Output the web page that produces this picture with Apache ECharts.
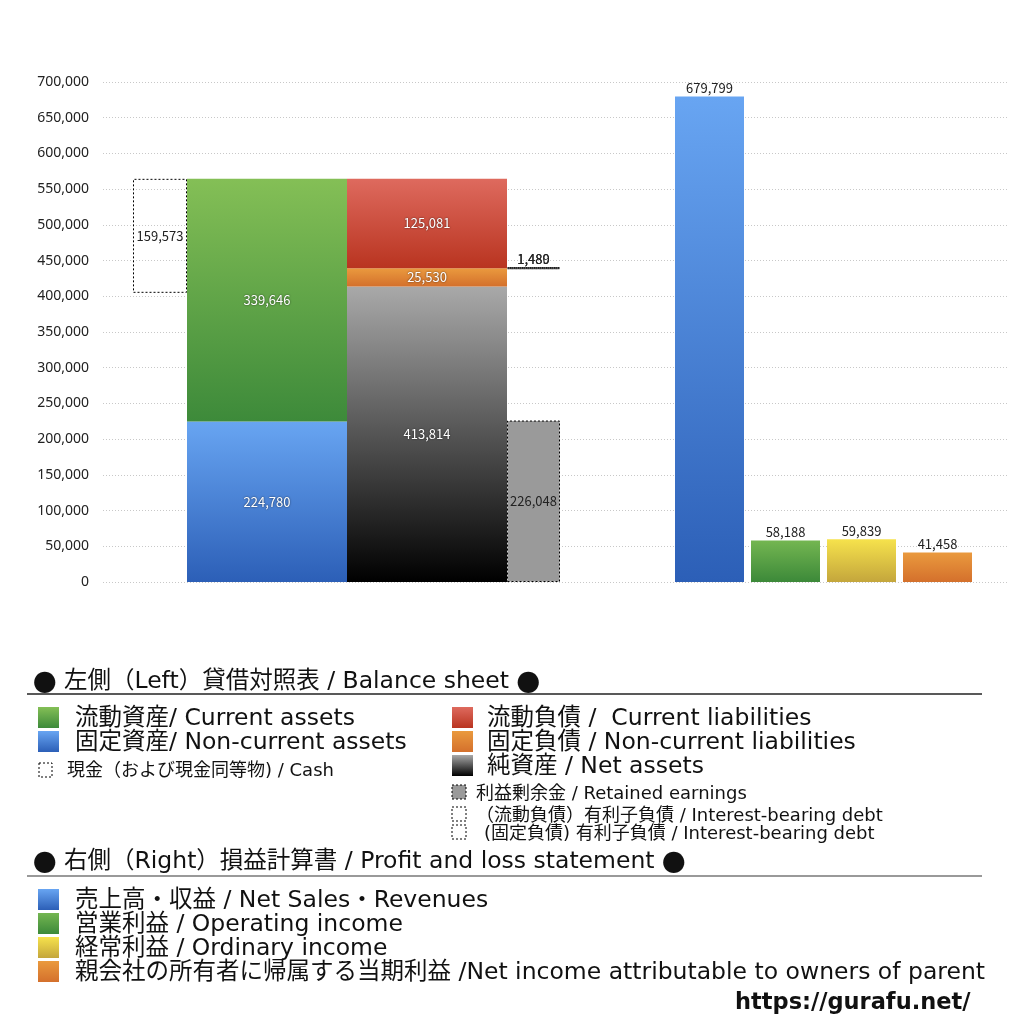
<!DOCTYPE html>
<html>
<head>
<meta charset="utf-8">
<script src="https://cdn.jsdelivr.net/npm/echarts@6/dist/echarts.min.js"></script>
<style>
html,body{margin:0;padding:0;background:#fff;}
#chart{width:1024px;height:1024px;}
</style>
</head>
<body>
<div id="chart"></div>
<script>
// ---- data ----
const bsCategories = ['貸借対照表'];
const cash = [159573];
const nonCurrentAssets = [224780];
const currentAssets = [339646];
const netAssets = [413814];
const nonCurrentLiabilities = [25530];
const currentLiabilities = [125081];
const retainedEarnings = [226048];
const nonCurrentDebt = [1480];
const currentDebt = [1489];

const plCategories = ['売上高・収益', '営業利益', '経常利益', '親会社の所有者に帰属する当期利益'];
const plValues = [679799, 58188, 59839, 41458];

const yMin = 0, yMax = 700000, yInterval = 50000;

// ---- helpers ----
const FONT = '"Noto Sans CJK JP", "Noto Sans", sans-serif';
const LFONT = '"DejaVu Sans", "Noto Sans CJK JP", sans-serif';
const fmt = v => Number(v).toLocaleString('en-US');
const grad = (top, bottom) => new echarts.graphic.LinearGradient(0, 0, 0, 1, [
  { offset: 0, color: top }, { offset: 1, color: bottom }
]);
const C = {
  green: ['#84bf56', '#3d8a3a'],
  blue: ['#68a5f2', '#2c5fb7'],
  red: ['#de6a5e', '#b93420'],
  orange: ['#ea9a3e', '#d4702c'],
  gray: ['#a9a9a9', '#000000'],
  yellow: ['#f6e24c', '#c4a63c'],
  pgreen: ['#74b651', '#3c8939']
};
const totalAssets = nonCurrentAssets.map((v, i) => v + currentAssets[i]);
const cashBase = totalAssets.map((v, i) => v - cash[i]);
const debtBase = netAssets.map((v, i) => v + nonCurrentLiabilities[i] - retainedEarnings[i] - nonCurrentDebt[i]);

const whiteLabel = {
  show: true, position: 'inside', color: '#fff', fontSize: 13, fontFamily: FONT,
  formatter: p => fmt(p.value), textShadowColor: 'rgba(0,0,0,0.7)', textShadowBlur: 2
};
const darkLabel = {
  show: true, position: 'inside', color: '#222', fontSize: 13, fontFamily: FONT,
  formatter: p => fmt(p.value)
};
const dashedBorder = { borderColor: '#000', borderWidth: 1, borderType: [2, 2] };

const common = { type: 'bar', xAxisIndex: 1, yAxisIndex: 1, barGap: '0%', animation: false };

const series = [
  Object.assign({}, common, { name: 'cashBase', stack: 'cash', barWidth: 54, data: cashBase, itemStyle: { color: 'rgba(0,0,0,0)' }, silent: true }),
  Object.assign({}, common, { name: '現金', stack: 'cash', barWidth: 54, data: cash, itemStyle: Object.assign({ color: 'rgba(255,255,255,0)' }, dashedBorder), label: darkLabel }),
  Object.assign({}, common, { name: '固定資産', stack: 'assets', barWidth: 160, data: nonCurrentAssets, itemStyle: { color: grad(...C.blue) }, label: whiteLabel }),
  Object.assign({}, common, { name: '流動資産', stack: 'assets', barWidth: 160, data: currentAssets, itemStyle: { color: grad(...C.green) }, label: whiteLabel }),
  Object.assign({}, common, { name: '純資産', stack: 'liab', barWidth: 160, data: netAssets, itemStyle: { color: grad(...C.gray) }, label: whiteLabel }),
  Object.assign({}, common, { name: '固定負債', stack: 'liab', barWidth: 160, data: nonCurrentLiabilities, itemStyle: { color: grad(...C.orange) }, label: whiteLabel }),
  Object.assign({}, common, { name: '流動負債', stack: 'liab', barWidth: 160, data: currentLiabilities, itemStyle: { color: grad(...C.red) }, label: whiteLabel }),
  Object.assign({}, common, { name: '利益剰余金', stack: 'ret', barWidth: 53, data: retainedEarnings, itemStyle: Object.assign({ color: '#9a9a9a' }, dashedBorder), label: darkLabel }),
  Object.assign({}, common, { name: 'debtBase', stack: 'ret', barWidth: 53, data: debtBase, itemStyle: { color: 'rgba(0,0,0,0)' }, silent: true }),
  Object.assign({}, common, { name: '固定有利子負債', stack: 'ret', barWidth: 53, data: nonCurrentDebt, itemStyle: Object.assign({ color: 'rgba(255,255,255,0)' }, dashedBorder), label: Object.assign({}, darkLabel, { position: 'top', distance: 3 }) }),
  Object.assign({}, common, { name: '流動有利子負債', stack: 'ret', barWidth: 53, data: currentDebt, itemStyle: Object.assign({ color: 'rgba(255,255,255,0)' }, dashedBorder), label: Object.assign({}, darkLabel, { position: 'top', distance: 2 }) }),
  {
    type: 'bar', name: 'PL', xAxisIndex: 2, yAxisIndex: 2, barWidth: 69, animation: false,
    data: plValues.map((v, i) => ({
      value: v,
      itemStyle: { color: grad(...[C.blue, C.pgreen, C.yellow, C.orange][i]) }
    })),
    label: { show: true, position: 'top', distance: 2, color: '#222', fontSize: 13, fontFamily: FONT, formatter: p => fmt(p.value) }
  }
];

// ---- legend graphics ----
const g = [];
const txt = (x, y, text, size, opts) => g.push({
  type: 'text', x, y, style: Object.assign({
    text, fontSize: size, fontFamily: LFONT, fill: '#111', verticalAlign: 'middle',
    rich: { b: { fontFamily: '"Noto Sans CJK JP"', fontSize: size, fill: '#111', verticalAlign: 'middle' } }
  }, opts || {})
});
const sq = (x, y, w, h, fill, dashed) => g.push({
  type: 'rect', shape: { x, y, width: w, height: h },
  style: dashed ? { fill: fill || '#fff', stroke: '#000', lineWidth: 1, lineDash: [2, 2] } : { fill }
});
const BIG = 23.5, SMALL = 18;

txt(33, 682, '{b|●} 左側（Left）貸借対照表 / Balance sheet {b|●}', BIG);
g.push({ type: 'line', shape: { x1: 27, y1: 694, x2: 982, y2: 694 }, style: { stroke: '#222', lineWidth: 1.5 } });
sq(38, 707, 21, 21, grad(...C.green)); txt(75, 719, '流動資産/ Current assets', BIG);
sq(38, 731, 21, 21, grad(...C.blue)); txt(75, 743, '固定資産/ Non-current assets', BIG);
sq(39, 763, 13, 14, '#fff', true); txt(67, 771, '現金（および現金同等物) / Cash', SMALL);
sq(452, 707, 21, 21, grad(...C.red)); txt(487, 719, '流動負債 /  Current liabilities', BIG);
sq(452, 731, 21, 21, grad(...C.orange)); txt(487, 743, '固定負債 / Non-current liabilities', BIG);
sq(452, 755, 21, 21, grad(...C.gray)); txt(487, 767, '純資産 / Net assets', BIG);
sq(452, 785, 14, 14, '#9a9a9a', true); txt(476, 794, '利益剰余金 / Retained earnings', SMALL);
sq(452, 807, 14, 14, '#fff', true); txt(476, 816, '（流動負債）有利子負債 / Interest-bearing debt', SMALL);
sq(452, 825, 14, 14, '#fff', true); txt(484, 834, '(固定負債) 有利子負債 / Interest-bearing debt', SMALL);

txt(33, 862, '{b|●} 右側（Right）損益計算書 / Profit and loss statement {b|●}', BIG);
g.push({ type: 'line', shape: { x1: 27, y1: 876, x2: 982, y2: 876 }, style: { stroke: '#777', lineWidth: 1.5 } });
const plLegend = [
  '売上高・収益 / Net Sales・Revenues',
  '営業利益 / Operating income',
  '経常利益 / Ordinary income',
  '親会社の所有者に帰属する当期利益 /Net income attributable to owners of parent'
];
[C.blue, C.pgreen, C.yellow, C.orange].forEach((c, i) => {
  sq(38, 889 + i * 24, 21, 21, grad(...c));
  txt(75, 901 + i * 24, plLegend[i], BIG);
});
txt(735, 1003, 'https://gurafu.net/', 22.5, { fontWeight: 'bold', fontFamily: '"DejaVu Sans", sans-serif' });

const chart = echarts.init(document.getElementById('chart'), null, { renderer: 'canvas' });
chart.setOption({
  backgroundColor: '#fff',
  animation: false,
  grid: [
    { left: 103, right: 17, top: 82, height: 500 },
    { left: 133, width: 427, top: 82, height: 500 },
    { left: 671.5, width: 304, top: 82, height: 500 }
  ],
  xAxis: [
    { gridIndex: 0, type: 'category', data: [''], show: false },
    { gridIndex: 1, type: 'category', data: bsCategories, show: false },
    { gridIndex: 2, type: 'category', data: plCategories, show: false }
  ],
  yAxis: [
    {
      gridIndex: 0, type: 'value', min: yMin, max: yMax, interval: yInterval,
      axisLine: { show: false }, axisTick: { show: false },
      axisLabel: { fontSize: 14, color: '#222', fontFamily: '"Noto Sans", sans-serif', margin: 14, formatter: v => fmt(v) },
      splitLine: { show: true, lineStyle: { color: '#c8c8c8', type: [1, 2], width: 1 } }
    },
    { gridIndex: 1, type: 'value', min: yMin, max: yMax, interval: yInterval, show: false, splitLine: { show: false } },
    { gridIndex: 2, type: 'value', min: yMin, max: yMax, interval: yInterval, show: false, splitLine: { show: false } }
  ],
  series,
  graphic: g
});
</script>
</body>
</html>
